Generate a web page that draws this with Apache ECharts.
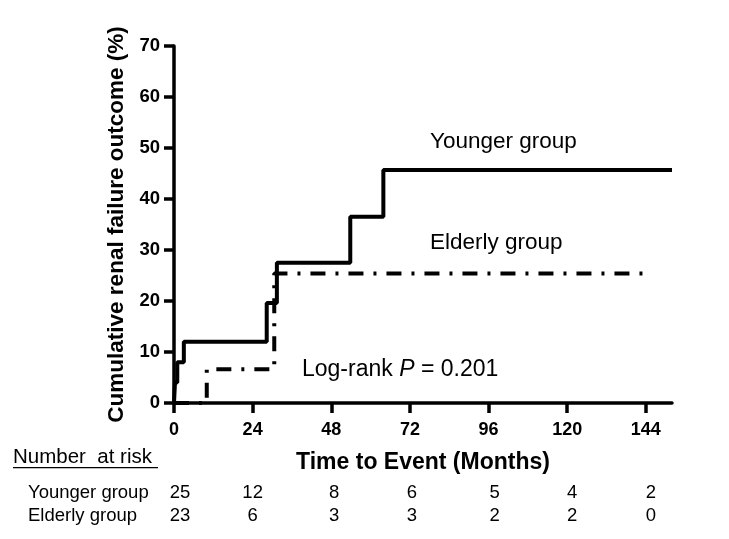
<!DOCTYPE html>
<html>
<head>
<meta charset="utf-8">
<script src="https://cdn.jsdelivr.net/npm/echarts@6/dist/echarts.min.js"></script>
<style>
  html, body { margin: 0; padding: 0; background: #fff; }
  #chart { width: 729px; height: 539px; }
</style>
</head>
<body>
<div id="chart"></div>
<script>
// KM-style cumulative incidence
var youngerMonths = [0, 0.3, 1, 3, 28.3, 31.4, 53.8, 63.9, 152]
var youngerPct = [0, 4, 8, 12, 19.6, 27.5, 36.5, 45.7, 45.7]
var elderlyMonths = [0, 10, 30.6, 145]
var elderlyPct = [0, 6.6, 25.4, 25.4]

var xTicks = [0, 24, 48, 72, 96, 120, 144]
var riskGroups = ['Younger group', 'Elderly group']
var riskYounger = [25, 12, 8, 6, 5, 4, 2]
var riskElderly = [23, 6, 3, 3, 2, 2, 0]

function pairs (xs, ys) {
  var out = []
  for (var i = 0; i < xs.length; i++) out.push([xs[i], ys[i]])
  return out
}

var font = 'Arial, "Liberation Sans", sans-serif'
var myChart = echarts.init(document.getElementById('chart'))

var option = {
  animation: false,
  grid: { left: 174, right: 57, top: 46, bottom: 136 },
  xAxis: {
    type: 'value',
    min: 0,
    max: 152,
    interval: 24,
    splitLine: { show: false },
    axisLine: { onZero: false, lineStyle: { color: '#000', width: 3.5 } },
    axisTick: { length: 10, lineStyle: { color: '#000', width: 3.5 }, customValues: xTicks },
    axisLabel: { color: '#000', fontFamily: font, fontWeight: 'bold', fontSize: 18, margin: 18, customValues: xTicks },
    name: 'Time to Event (Months)',
    nameLocation: 'middle',
    nameGap: 48,
    nameTextStyle: { color: '#000', fontFamily: font, fontWeight: 'bold', fontSize: 23 }
  },
  yAxis: {
    type: 'value',
    min: 0,
    max: 70,
    interval: 10,
    splitLine: { show: false },
    axisLine: { show: true, lineStyle: { color: '#000', width: 3.5 } },
    axisTick: { show: true, length: 10, lineStyle: { color: '#000', width: 3.5 } },
    axisLabel: { color: '#000', fontFamily: font, fontWeight: 'bold', fontSize: 18.5, margin: 14 },
    name: 'Cumulative renal failure outcome (%)',
    nameLocation: 'middle',
    nameGap: 42,
    nameTextStyle: { color: '#000', fontFamily: font, fontWeight: 'bold', fontSize: 22.5 }
  },
  series: [
    {
      name: 'Younger group',
      type: 'line',
      step: 'end',
      symbol: 'none',
      lineStyle: { color: '#000', width: 4, cap: 'butt' },
      data: pairs(youngerMonths, youngerPct)
    },
    {
      name: 'Elderly group',
      type: 'line',
      step: 'end',
      symbol: 'none',
      lineStyle: { color: '#000', width: 4, type: [15, 10, 3, 10], cap: 'butt' },
      data: pairs(elderlyMonths, elderlyPct)
    }
  ]
}
myChart.setOption(option)

// annotations and number-at-risk table, placed through the x scale
var graphics = [
  { type: 'text', left: 430, top: 130, style: { text: 'Younger group', font: '22.5px ' + font, fill: '#000' } },
  { type: 'text', left: 430, top: 231, style: { text: 'Elderly group', font: '22.5px ' + font, fill: '#000' } },
  {
    type: 'text', left: 302, top: 358,
    style: {
      text: '{n|Log-rank }{i|P}{n| = 0.201}',
      fill: '#000',
      rich: {
        n: { fontFamily: font, fontSize: 23, fill: '#000' },
        i: { fontFamily: font, fontSize: 23, fontStyle: 'italic', fill: '#000' }
      }
    }
  },
  { type: 'text', left: 13, top: 447, style: { text: 'Number  at risk', font: '20.5px ' + font, fill: '#000' } },
  { type: 'rect', shape: { x: 13, y: 467, width: 145, height: 1.2 }, style: { fill: '#000' } },
  { type: 'text', left: 28, top: 483, style: { text: riskGroups[0], font: '18.5px ' + font, fill: '#000' } },
  { type: 'text', left: 28, top: 506, style: { text: riskGroups[1], font: '18.5px ' + font, fill: '#000' } }
]
// the printed table sits a few pixels off the tick positions
var colShift = [6, 0, 3, 2, 6, 5, 5]
var rows = [riskYounger, riskElderly]
for (var r = 0; r < rows.length; r++) {
  for (var i = 0; i < xTicks.length; i++) {
    var px = myChart.convertToPixel({ xAxisIndex: 0 }, xTicks[i]) + colShift[i]
    graphics.push({
      type: 'text',
      x: px,
      y: 493 + r * 23,
      style: { text: String(rows[r][i]), font: '18.5px ' + font, fill: '#000', align: 'center', verticalAlign: 'middle' }
    })
  }
}
myChart.setOption({ graphic: graphics })
</script>
</body>
</html>
